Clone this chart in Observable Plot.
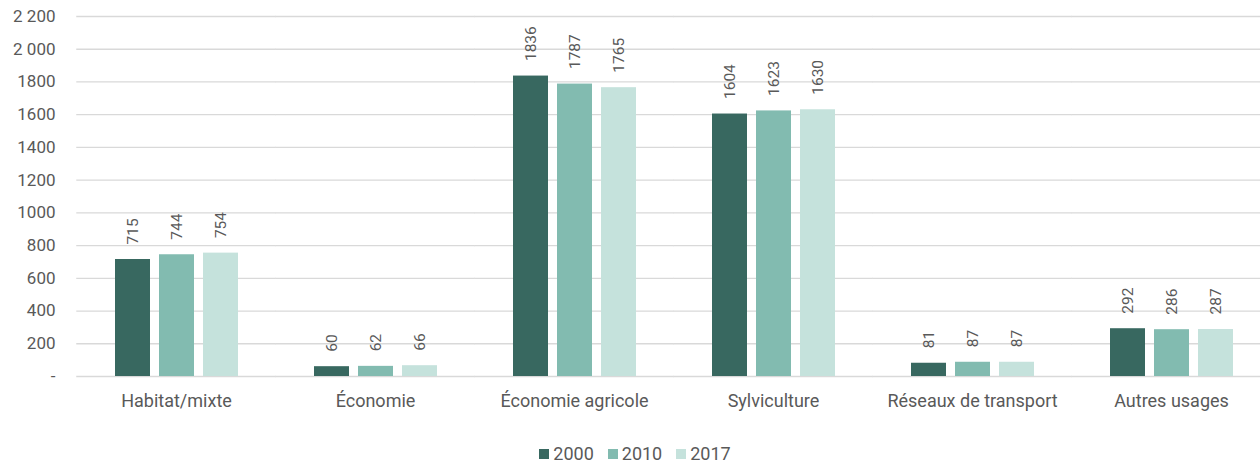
<!DOCTYPE html>
<html>
<head>
<meta charset="utf-8">
<script src="https://cdn.jsdelivr.net/npm/d3@7"></script>
<script src="https://cdn.jsdelivr.net/npm/@observablehq/plot@0.6"></script>
<style>
  html, body { margin: 0; padding: 0; background: #fff; overflow: hidden; width: 1260px; height: 463px; position: relative; }
  #chart { position: absolute; left: 0; top: 0; width: 1260px; height: 425px; overflow: hidden; }
  #chart svg { display: block; }
  #legend { position: absolute; left: 0; top: 445px; width: 1260px; display: flex; justify-content: center; align-items: center; height: 17px; font-family: Roboto, sans-serif; font-size: 18px; line-height: 17px; color: #595959; padding-left: 10px; box-sizing: border-box; }
  #legend .item { display: flex; align-items: center; margin: 0 7px; height: 17px; }
  #legend .item span { line-height: 17px; height: 17px; }
  #legend .sw { width: 10px; height: 10px; margin-right: 4px; }
</style>
</head>
<body>
<div id="chart"></div>
<div id="legend"></div>
<script>
const categories = ["Habitat/mixte", "Économie", "Économie agricole", "Sylviculture", "Réseaux de transport", "Autres usages"];
const years = ["2000", "2010", "2017"];
const v2000 = [715, 60, 1836, 1604, 81, 292];
const v2010 = [744, 62, 1787, 1623, 87, 286];
const v2017 = [754, 66, 1765, 1630, 87, 287];
const yTicks = [0, 200, 400, 600, 800, 1000, 1200, 1400, 1600, 1800, 2000, 2200];
const yTickLabels = ["-", "200", "400", "600", "800", "1000", "1200", "1400", "1600", "1800", "2 000", "2 200"];
const colors = ["#386860", "#82bbb0", "#c5e2dc"];

const series = [v2000, v2010, v2017];
const data = [];
categories.forEach((c, i) => {
  years.forEach((y, j) => {
    data.push({category: c, year: y, value: series[j][i]});
  });
});

const textColor = "#595959";
const chart = Plot.plot({
  width: 1260,
  height: 425,
  marginTop: 16,
  marginBottom: 49,
  marginLeft: 74,
  marginRight: -13.5,
  style: {fontFamily: "Roboto, sans-serif", fontSize: "17px", color: textColor, background: "#fff"},
  fx: {domain: categories, paddingInner: 0.378, paddingOuter: 0.189, label: null},
  x: {domain: years, paddingInner: 0.21, paddingOuter: 0, axis: null},
  y: {domain: [0, 2200], axis: null},
  color: {domain: years, range: colors},
  marks: [
    Plot.ruleY(yTicks, {stroke: "#d9d9d9", strokeWidth: 1.3, insetLeft: -37.75, insetRight: -37.75}),
    Plot.barY(data, {fx: "category", x: "year", y: "value", fill: "year"}),
    Plot.text(data, {fx: "category", x: "year", y: "value", text: d => String(d.value), rotate: -90, textAnchor: "start", dy: -15, fontSize: 15.5, fill: textColor}),
    Plot.axisY({ticks: yTicks, tickFormat: d => yTickLabels[yTicks.indexOf(d)], tickSize: 0, tickPadding: 59, label: null, fontSize: 17, fill: textColor}),
    Plot.axisFx({anchor: "bottom", tickSize: 0, tickPadding: 18, label: null, fontSize: 18, fill: textColor})
  ]
});
document.getElementById("chart").appendChild(chart);

const legend = document.getElementById("legend");
years.forEach((y, i) => {
  const item = document.createElement("div");
  item.className = "item";
  const sw = document.createElement("div");
  sw.className = "sw";
  sw.style.background = colors[i];
  const t = document.createElement("span");
  t.textContent = y;
  item.appendChild(sw);
  item.appendChild(t);
  legend.appendChild(item);
});
</script>
</body>
</html>
